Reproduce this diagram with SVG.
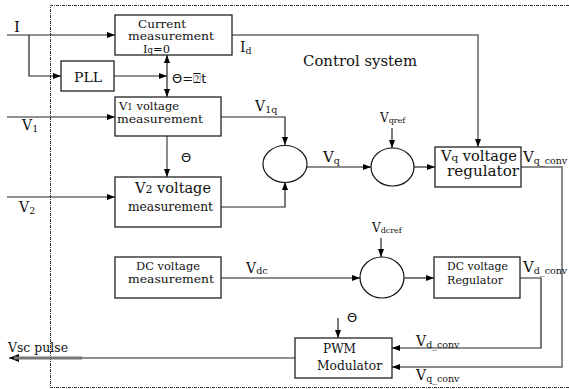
<svg xmlns="http://www.w3.org/2000/svg" width="569" height="389" viewBox="0 0 569 389">
<defs>
<marker id="ah" viewBox="0 0 8 6" refX="8" refY="3" markerWidth="8" markerHeight="6" markerUnits="userSpaceOnUse" orient="auto-start-reverse">
<path d="M0,0 L8,3 L0,6 z" fill="#000"/>
</marker>
<marker id="ahb" viewBox="0 0 10 8" refX="10" refY="4" markerWidth="10" markerHeight="8" markerUnits="userSpaceOnUse" orient="auto">
<path d="M0,0 L10,4 L0,8 z" fill="#000"/>
</marker>
<style>
.box{fill:#fff;stroke:#222;stroke-width:1.3}
.sum{fill:#fff;stroke:#111;stroke-width:1.2}
.c{fill:none;stroke:#222;stroke-width:1.2}
.g{fill:none;stroke:#666;stroke-width:1.5}
text{font-family:"DejaVu Serif","Liberation Serif",serif;fill:#111}
.s{font-family:"DejaVu Sans","Liberation Sans",sans-serif}
.b{font-size:11.5px}
.l{font-size:14px}
.sub{font-size:9.5px}
.bs{font-size:8.5px}
</style>
</defs>
<path d="M569,5.5 H50.5 V387.5 H569" fill="none" stroke="#333" stroke-width="1" stroke-dasharray="3,1,1,1"/>
<g id="connectors">
<path class="c" d="M7,35 H115" marker-end="url(#ah)"/>
<path class="c" d="M29,35 V76 H61" marker-end="url(#ah)"/>
<path class="c" d="M114,76 H167" marker-end="url(#ah)"/>
<path class="c" d="M167,55 V97" marker-start="url(#ah)" marker-end="url(#ah)"/>
<path class="g" d="M232,35 H478 V147" marker-end="url(#ah)"/>
<path class="c" d="M7,117 H115" marker-end="url(#ah)"/>
<path class="g" d="M167,136 V177" marker-end="url(#ah)"/>
<path class="c" d="M7,197 H115" marker-end="url(#ah)"/>
<path class="c" d="M221,117 H285 V145" marker-end="url(#ah)"/>
<path class="c" d="M221,207 H285 V182" marker-end="url(#ah)"/>
<path class="g" d="M307,167 H371" marker-end="url(#ah)"/>
<path class="c" d="M392,128 V148" marker-end="url(#ah)"/>
<path class="c" d="M414,167 H435" marker-end="url(#ah)"/>
<path class="g" d="M521,167 H562 V367 H392" marker-end="url(#ah)"/>
<path class="g" d="M221,278 H360" marker-end="url(#ah)"/>
<path class="c" d="M381,238 V257" marker-end="url(#ah)"/>
<path class="c" d="M404,278 H434" marker-end="url(#ah)"/>
<path class="c" d="M520,278 H541 V348 H392" marker-end="url(#ah)"/>
<path class="c" d="M338,318 V338" marker-end="url(#ah)"/>
<path class="c" d="M295,358 H9" marker-end="url(#ahb)"/>
<path d="M14,358 H82" stroke="#777" stroke-width="3" fill="none"/>
</g>
<g id="current-measurement">
<rect class="box" x="115" y="15" width="117" height="40"/>
<text class="b" x="138" y="27.5" textLength="48" lengthAdjust="spacingAndGlyphs">Current</text>
<text class="b" x="128" y="40" textLength="86" lengthAdjust="spacingAndGlyphs">measurement</text>
<text class="b" x="143" y="52.5">I<tspan class="bs">q</tspan>=0</text>
</g>
<g id="pll">
<rect class="box" x="61" y="61" width="53" height="30"/>
<text x="74" y="82" font-size="12.5" textLength="28" lengthAdjust="spacingAndGlyphs">PLL</text>
</g>
<g id="v1-measurement">
<rect class="box" x="115" y="97" width="106" height="39"/>
<text class="b" x="119" y="110">V<tspan class="bs">1</tspan> voltage</text>
<text class="b" x="117" y="123" textLength="86" lengthAdjust="spacingAndGlyphs">measurement</text>
</g>
<g id="v2-measurement">
<rect class="box" x="115" y="177" width="106" height="50"/>
<text x="135" y="193" font-size="14.5">V<tspan font-size="11">2</tspan> voltage</text>
<text x="128" y="211" font-size="12" textLength="85" lengthAdjust="spacingAndGlyphs">measurement</text>
</g>
<g id="dc-measurement">
<rect class="box" x="115" y="257" width="106" height="41"/>
<text x="136" y="270" font-size="11.5" textLength="64" lengthAdjust="spacingAndGlyphs">DC voltage</text>
<text class="b" x="128" y="283" textLength="86" lengthAdjust="spacingAndGlyphs">measurement</text>
</g>
<g id="sum1"><ellipse class="sum" cx="285" cy="164" rx="22" ry="18.5"/></g>
<g id="sum2"><ellipse class="sum" cx="392.5" cy="167" rx="21.5" ry="19"/></g>
<g id="sum3"><ellipse class="sum" cx="382" cy="277.5" rx="22" ry="20.5"/></g>
<g id="vq-regulator">
<rect class="box" x="435" y="147" width="86" height="40"/>
<text x="441" y="161" font-size="14" textLength="76" lengthAdjust="spacingAndGlyphs">V<tspan font-size="10">q</tspan> voltage</text>
<text x="447" y="176" font-size="14" textLength="72" lengthAdjust="spacingAndGlyphs">regulator</text>
</g>
<g id="dc-regulator">
<rect class="box" x="434" y="257" width="86" height="41"/>
<text x="447" y="270" font-size="11" textLength="61" lengthAdjust="spacingAndGlyphs">DC voltage</text>
<text x="447" y="284" font-size="11" textLength="56" lengthAdjust="spacingAndGlyphs">Regulator</text>
</g>
<g id="pwm">
<rect class="box" x="295" y="338" width="97" height="40"/>
<text x="323" y="353" font-size="13" textLength="33" lengthAdjust="spacingAndGlyphs">PWM</text>
<text x="317" y="370" font-size="13" textLength="65" lengthAdjust="spacingAndGlyphs">Modulator</text>
</g>
<g id="labels">
<text x="303" y="66" font-size="15" textLength="114" lengthAdjust="spacingAndGlyphs">Control system</text>
<text x="14" y="32" font-size="15">I</text>
<text x="240" y="52" class="l">I<tspan class="sub" dy="2">d</tspan></text>
<text class="s" x="172" y="83" font-size="13">Θ=⍰t</text>
<text x="22" y="130" class="l">V<tspan class="sub" dy="2">1</tspan></text>
<text x="255" y="111" class="l">V<tspan class="sub" dy="2">1q</tspan></text>
<text class="s" x="181" y="162" font-size="13">Θ</text>
<text x="19" y="212" class="l">V<tspan class="sub" dy="2">2</tspan></text>
<text x="323" y="162" font-size="15">V<tspan class="sub" dy="2">q</tspan></text>
<text x="380" y="122" font-size="12">V<tspan font-size="8" dy="1">qref</tspan></text>
<text x="523" y="162" font-size="15">V<tspan class="sub" dy="2">q_conv</tspan></text>
<text x="372" y="232" font-size="12">V<tspan font-size="8" dy="1">dcref</tspan></text>
<text x="246" y="273" class="l">V<tspan class="sub" dy="1">dc</tspan></text>
<text x="523" y="272" font-size="15">V<tspan class="sub" dy="2">d_conv</tspan></text>
<text class="s" x="347" y="322" font-size="13">Θ</text>
<text x="416" y="346" class="l">V<tspan class="sub" dy="2">d_conv</tspan></text>
<text x="416" y="380" class="l">V<tspan class="sub" dy="2">q_conv</tspan></text>
<text x="8" y="352" font-size="12.5" textLength="60" lengthAdjust="spacingAndGlyphs">Vsc pulse</text>
</g>
</svg>
